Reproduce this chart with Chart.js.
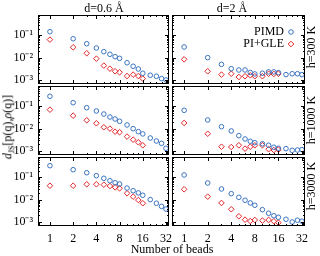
<!DOCTYPE html>
<html>
<head>
<meta charset="utf-8">
<script src="https://cdn.jsdelivr.net/npm/chart.js@4/dist/chart.umd.min.js"></script>
<style>
body { margin: 0; background: #fff; }
#wrap { position: relative; width: 320px; height: 256px; overflow: hidden; font-family: "Liberation Serif", "DejaVu Serif", serif; color: #000; }
#wrap canvas { position: absolute; left: 0; top: 0; }
.lbl { position: absolute; font-size: 12px; white-space: nowrap; line-height: 1; transform: translate(-50%, -50%); }
.rot { transform: translate(-50%, -50%) rotate(-90deg); }
</style>
</head>
<body>
<div id="wrap">
  <div class="lbl" style="left:104px; top:8px">d=0.6 Å</div>
  <div class="lbl" style="left:232px; top:8px">d=2 Å</div>
  <div class="lbl rot" style="left:311px; top:47px">h=300 K</div>
  <div class="lbl rot" style="left:311px; top:120px">h=1000 K</div>
  <div class="lbl rot" style="left:311px; top:186px">h=3000 K</div>
  <div class="lbl rot" style="left:9px; top:127px"><i>d</i><sub style="font-size:8px">JS</sub>[p(q),<i>ρ</i>(q)]</div>
  <div class="lbl" style="left:172px; top:249px">Number of beads</div>
</div>
<script>
// beads on the x axis
var beads = [1, 2, 3, 4, 5, 6, 7, 8, 10, 12, 14, 16, 20, 24, 28, 32];
var beadsGle = [1, 2, 3, 4, 5, 6, 7, 8, 10, 12, 14, 16];
var xTicks = [1, 2, 4, 8, 16, 32];
var xMinor = [3, 5, 6, 7, 10, 12, 14, 20, 24, 28];
var yTicks = [1e-3, 1e-2, 1e-1];

// d = 0.6 A column
var pimd_06_300 = [0.145, 0.070, 0.042, 0.027, 0.0185, 0.0141, 0.011, 0.0093, 0.0059, 0.0041, 0.0031, 0.0020, 0.00163, 0.00147, 0.00115, 0.0010];
var gle_06_300 = [0.064, 0.029, 0.0157, 0.009, 0.0044, 0.0032, 0.00245, 0.0022, 0.0015, 0.00174, 0.0015, 0.00115];
var pimd_06_1000 = [0.28, 0.145, 0.0865, 0.0616, 0.045, 0.0332, 0.027, 0.0213, 0.0146, 0.00995, 0.0073, 0.0058, 0.0038, 0.0028, 0.0022, 0.00132];
var gle_06_1000 = [0.0705, 0.038, 0.0237, 0.0174, 0.0115, 0.0100, 0.0073, 0.0069, 0.0044, 0.0032, 0.00245, 0.0018];
var pimd_06_3000 = [0.33, 0.219, 0.16, 0.118, 0.090, 0.070, 0.057, 0.050, 0.033, 0.025, 0.020, 0.0157, 0.010, 0.0069, 0.0050, 0.0038];
var gle_06_3000 = [0.042, 0.042, 0.0487, 0.0487, 0.0467, 0.0407, 0.0357, 0.032, 0.0192, 0.0136, 0.0096, 0.0069];

// d = 2 A column
var pimd_2_300 = [0.030, 0.0100, 0.0050, 0.0032, 0.0028, 0.0028, 0.00217, 0.00186, 0.0020, 0.0023, 0.0023, 0.00213, 0.00174, 0.0019, 0.0019, 0.00174];
var gle_2_300 = [0.0084, 0.00245, 0.00174, 0.0019, 0.00136, 0.00147, 0.00162, 0.00147, 0.00147, 0.0019, 0.00186, 0.0019];
var pimd_2_1000 = [0.066, 0.0244, 0.0122, 0.00785, 0.00484, 0.00344, 0.00272, 0.00235, 0.0021, 0.0018, 0.00147, 0.00132, 0.00127, 0.00107, 0.0011, 0.00115];
var gle_2_1000 = [0.0179, 0.0059, 0.00155, 0.0015, 0.0018, 0.00127, 0.00155, 0.0018, 0.0018, 0.0012, 0.0011, 0.00115];
var pimd_2_3000 = [0.127, 0.0556, 0.030, 0.0185, 0.0127, 0.0094, 0.0071, 0.0056, 0.00355, 0.00245, 0.0019, 0.00162, 0.00132, 0.0010, 0.0012, 0.00108];
var gle_2_3000 = [0.029, 0.0136, 0.0071, 0.0037, 0.0018, 0.00127, 0.0011, 0.00123, 0.00115, 0.00123, 0.00108, 0.00093];

var panels = [
  [pimd_06_300, gle_06_300], [pimd_2_300, gle_2_300],
  [pimd_06_1000, gle_06_1000], [pimd_2_1000, gle_2_1000],
  [pimd_06_3000, gle_06_3000], [pimd_2_3000, gle_2_3000]
];

const BLUE = '#3b74c0';
const RED = '#e0262b';
const colL = [38, 172], colR = [169, 305];
const rowT = [15, 86, 157], rowB = [84, 155, 226];
const YW = 34, XH = 22;
const font = { family: '"Liberation Serif", serif', size: 12 };
const sup = { '-': '⁻', '1': '¹', '2': '²', '3': '³' };

const frameTicks = {
  id: 'frameTicks',
  afterDraw(chart) {
    const { ctx, chartArea: a, scales: { x, y } } = chart;
    ctx.save();
    ctx.strokeStyle = '#000';
    ctx.lineWidth = 1;
    ctx.strokeRect(a.left + 0.5, a.top + 0.5, a.right - a.left - 1, a.bottom - a.top - 1);
    ctx.beginPath();
    for (let k = -4; k <= 0; k++) {
      for (let m = 1; m <= 9; m++) {
        const v = m * Math.pow(10, k);
        if (v < y.min || v > y.max) continue;
        const py = Math.round(y.getPixelForValue(v)) + 0.5;
        const len = m === 1 ? 4 : 2;
        ctx.moveTo(a.left, py); ctx.lineTo(a.left + len, py);
        ctx.moveTo(a.right, py); ctx.lineTo(a.right - len, py);
      }
    }
    xTicks.concat(xMinor).forEach(v => {
      const px = Math.round(x.getPixelForValue(v)) + 0.5;
      const len = xTicks.includes(v) ? 4 : 2;
      ctx.moveTo(px, a.top); ctx.lineTo(px, a.top + len);
      ctx.moveTo(px, a.bottom); ctx.lineTo(px, a.bottom - len);
    });
    ctx.stroke();

    if (chart.options.plugins.frameTicks.legend) {
      ctx.font = '12px "Liberation Serif", serif';
      ctx.textAlign = 'right';
      ctx.textBaseline = 'middle';
      const items = [['PIMD', BLUE, 'circle', 2.3], ['PI+GLE', RED, 'rectRot', 2.8]];
      items.forEach((it, i) => {
        const ty = a.top + 17 + i * 12;
        ctx.fillStyle = '#000';
        ctx.fillText(it[0], a.right - 21, ty);
        ctx.strokeStyle = it[1];
        ctx.fillStyle = 'rgba(0,0,0,0)';
        Chart.helpers.drawPoint(ctx, { pointStyle: it[2], radius: it[3], rotation: 0, borderWidth: 1 }, a.right - 14, ty);
      });
    }
    ctx.restore();
  }
};

function fixX(show) {
  return s => { s.height = show ? XH : 0; s.paddingLeft = 0; s.paddingRight = 0; s.paddingTop = 0; s.paddingBottom = 0; };
}
function fixY(show) {
  return s => { s.width = show ? YW : 0; s.paddingLeft = 0; s.paddingRight = 0; s.paddingTop = 0; s.paddingBottom = 0; };
}

const wrap = document.getElementById('wrap');
panels.forEach((p, i) => {
  const r = Math.floor(i / 2), c = i % 2;
  const showX = r === 2, showY = c === 0;
  const cv = document.createElement('canvas');
  cv.width = 320; cv.height = 256;
  wrap.insertBefore(cv, wrap.firstChild);
  new Chart(cv, {
    type: 'scatter',
    data: {
      datasets: [
        { label: 'PIMD', data: beads.map((b, j) => ({ x: b, y: p[0][j] })), pointStyle: 'circle', pointRadius: 2.3, borderColor: BLUE, backgroundColor: 'rgba(0,0,0,0)', borderWidth: 1 },
        { label: 'PI+GLE', data: beadsGle.map((b, j) => ({ x: b, y: p[1][j] })), pointStyle: 'rectRot', pointRadius: 2.8, borderColor: RED, backgroundColor: 'rgba(0,0,0,0)', borderWidth: 1 }
      ]
    },
    options: {
      responsive: false,
      animation: false,
      events: [],
      layout: {
        padding: {
          left: colL[c] - (showY ? YW : 0),
          right: 320 - colR[c],
          top: rowT[r],
          bottom: 256 - rowB[r] - (showX ? XH : 0)
        }
      },
      plugins: { legend: { display: false }, tooltip: { enabled: false }, frameTicks: { legend: i === 1 } },
      scales: {
        x: {
          type: 'logarithmic', min: 0.72, max: 35, display: true,
          afterBuildTicks: s => { s.ticks = xTicks.map(v => ({ value: v })); },
          afterFit: fixX(showX),
          grid: { display: false, drawTicks: false }, border: { display: false },
          ticks: { display: showX, font: font, color: '#000', padding: 6, maxRotation: 0, autoSkip: false, callback: v => String(v) }
        },
        y: {
          type: 'logarithmic', min: 6.6e-4, max: 0.81, display: true,
          afterBuildTicks: s => { s.ticks = yTicks.map(v => ({ value: v })); },
          afterFit: fixY(showY),
          grid: { display: false, drawTicks: false }, border: { display: false },
          ticks: { display: showY, font: font, color: '#000', padding: 5, autoSkip: false,
            callback: v => '10' + String(Math.round(Math.log10(v))).split('').map(ch => sup[ch]).join('') }
        }
      }
    },
    plugins: [frameTicks]
  });
});
</script>
</body>
</html>
